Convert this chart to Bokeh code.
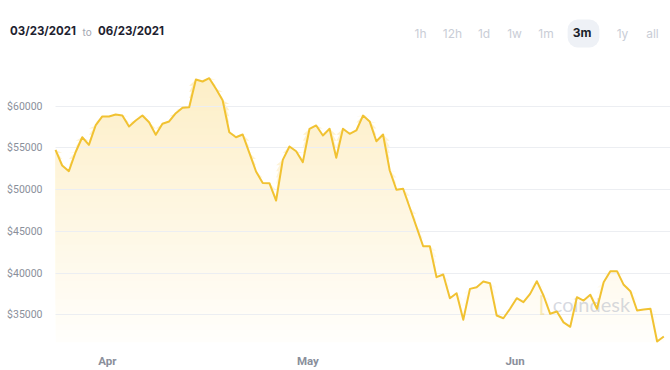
import numpy as np
import pandas as pd
from bokeh.plotting import figure
from bokeh.models import FixedTicker, Range1d, Label
from bokeh.layouts import column
from bokeh.embed import file_html
from bokeh.resources import INLINE

# ---------------- data ----------------
start_date = "2021-03-23"
prices = [
    54770, 52890, 52210, 54480, 56280, 55370, 57690, 58770, 58770, 59000,
    58880, 57570, 58290, 58880, 58080, 56570, 57890, 58170, 59160, 59810,
    59880, 63200, 62960, 63360, 62090, 60720, 56880, 56280, 56610, 54410,
    52170, 50790, 50770, 48690, 53570, 55170, 54600, 53290, 57290, 57690,
    56490, 57290, 53810, 57290, 56690, 57090, 58880, 58180, 55800, 56610,
    52290, 49980, 50100, 47820, 45540, 43210, 43210, 39500, 39820, 36980,
    37580, 34390, 38100, 38300, 38980, 38780, 34900, 34580, 35710, 36980,
    36500, 37500, 39020, 37300, 35110, 35380, 34080, 33550, 37100, 36700,
    37390, 35710, 38900, 40220, 40220, 38580, 37820, 35500, 35620, 35710,
    31790, 32390,
]
month_ticks = ["2021-04-01", "2021-05-01", "2021-06-01"]
month_labels = ["Apr", "May", "Jun"]
y_ticks = [35000, 40000, 45000, 50000, 55000, 60000]
y_labels = ["$35000", "$40000", "$45000", "$50000", "$55000", "$60000"]
range_from = "03/23/2021"
range_to = "06/23/2021"
periods = ["1h", "12h", "1d", "1w", "1m", "3m", "1y", "all"]
active_period = "3m"

dates = pd.date_range(start_date, periods=len(prices), freq="D")
vals = np.array(prices, dtype=float)

W = 670
LEFT = 55
LINE = "#f1c232"
GRID = "#eceef2"
LABEL = "#8a8f9b"
Y0, Y1 = 31667, 63921

# ---------------- header (page-pixel coordinates) ----------------
h = figure(width=W, height=56, x_range=Range1d(0, W), y_range=Range1d(56, 0),
           output_backend="svg", toolbar_location=None,
           min_border=0, outline_line_color=None,
           x_axis_location=None, y_axis_location=None)
h.frame_align = False
h.grid.visible = False
h.background_fill_color = "white"
h.border_fill_color = "white"


def hlabel(x, y, text, size="11.5px", style="normal", color="#1e2230",
           align="left", **kw):
    h.add_layout(Label(x=x, y=y, text=text, text_font="Inter",
                       text_font_size=size, text_font_style=style,
                       text_color=color, text_align=align,
                       text_baseline="middle", **kw))


hlabel(9.5, 30, range_from, style="bold")
hlabel(82, 31, "to", size="10px", color="#a3a7b2")
hlabel(97.5, 30, range_to, style="bold")

btn_x = [420, 452, 483.5, 514, 545.5, 583, 622, 652]
for bx, t in zip(btn_x, periods):
    if t == active_period:
        hlabel(bx, 33, t, size="12px", style="bold", color="#1b1f2b",
               align="center", background_fill_color="#eef1f6",
               padding=[5, 8, 5, 8], border_radius=10)
    else:
        hlabel(bx, 33, t, size="12px", color="#c9cdd6", align="center")

# ---------------- chart ----------------
x_start = dates[0]
x_end = dates[0] + pd.Timedelta(days=len(prices))
p = figure(width=W, height=314, x_axis_type="datetime",
           x_range=Range1d(x_start, x_end), y_range=Range1d(Y0, Y1),
           output_backend="svg", toolbar_location=None,
           min_border_left=LEFT, min_border_right=0, min_border_top=17,
           min_border_bottom=28, outline_line_color=None)
p.frame_align = False
p.background_fill_color = "white"
p.border_fill_color = "white"

# vertical gradient under the line: stacked opaque layers, each covering
# from its level up to the price line (higher layers are more saturated)
top_rgb = np.array([253, 238, 197])
bot_rgb = np.array([255, 254, 251])
levels = np.linspace(Y0, Y1, 45)[:-1]
for L in levels:
    t = (L - Y0) / (Y1 - Y0)
    c = np.round(bot_rgb + (top_rgb - bot_rgb) * t).astype(int)
    p.varea(x=dates, y1=np.full(len(vals), L), y2=np.maximum(vals, L),
            fill_color="#%02x%02x%02x" % tuple(c), fill_alpha=1.0)

line_r = p.line(x=dates, y=vals, line_color=LINE, line_width=2, line_join="round")
line_r.level = "overlay"

# watermark
p.add_layout(Label(x=(dates[0] + pd.Timedelta(days=74.4)).value / 1e6, y=36250,
                   text="coindesk", text_font="Lato", text_font_size="20px",
                   text_color="#aeb4c2", text_alpha=0.5, text_baseline="middle",
                   text_align="left"))
p.add_layout(Label(x=(dates[0] + pd.Timedelta(days=72.3)).value / 1e6, y=36350,
                   text="[", text_font="Lato", text_font_style="bold",
                   text_font_size="20px", text_color="#f3d77e", text_alpha=0.5,
                   text_baseline="middle", text_align="left"))

# axes: month labels sit just left of the month start (right-aligned look)
label_shift = pd.Timedelta(days=1.25)
tick_ms = [(pd.Timestamp(t) - label_shift).value / 1e6 for t in month_ticks]
p.xaxis.ticker = FixedTicker(ticks=tick_ms)
p.xaxis.major_label_overrides = {t: l for t, l in zip(tick_ms, month_labels)}
p.yaxis.ticker = FixedTicker(ticks=y_ticks)
p.yaxis.major_label_overrides = {t: l for t, l in zip(y_ticks, y_labels)}

for ax in (p.xaxis, p.yaxis):
    ax.axis_line_color = None
    ax.major_tick_line_color = None
    ax.minor_tick_line_color = None
    ax.major_label_text_font = "Roboto"
    ax.major_label_text_color = LABEL
p.yaxis.major_label_text_font_size = "10.5px"
p.yaxis.major_label_standoff = 7
p.xaxis.major_label_text_font_size = "11.5px"
p.xaxis.major_label_text_font_style = "bold"
p.xaxis.major_label_standoff = 5

p.xgrid.visible = False
p.ygrid.ticker = FixedTicker(ticks=y_ticks)
p.ygrid.grid_line_color = GRID
p.ygrid.grid_line_width = 1
p.ygrid.level = "guide"

layout = column(h, p, spacing=0)
open("out.html", "w").write(file_html(layout, INLINE))
